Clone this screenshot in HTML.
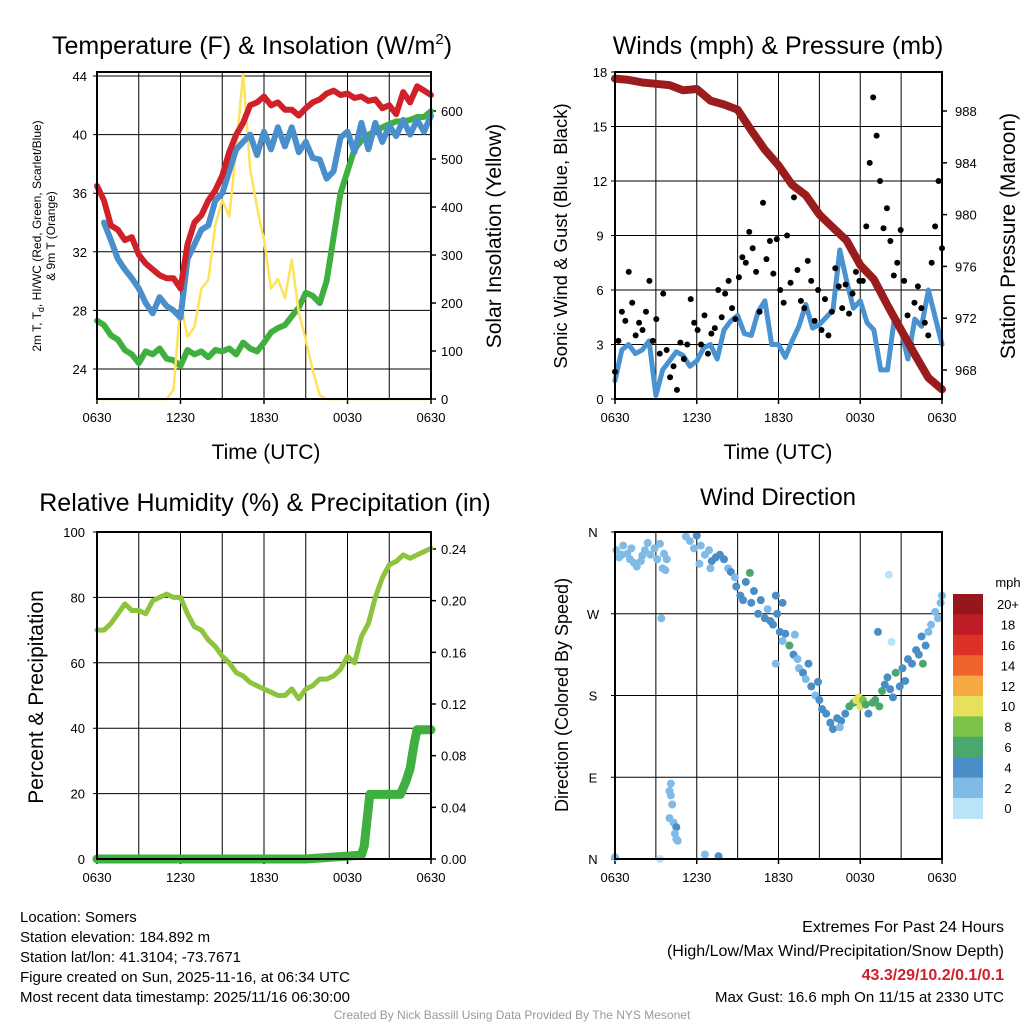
<!DOCTYPE html>
<html><head><meta charset="utf-8"><style>
html,body{margin:0;padding:0;background:#fff;}
svg{display:block;font-family:"Liberation Sans",sans-serif;}
</style></head><body>
<svg id="c" width="1024" height="1024" viewBox="0 0 1024 1024"></svg>
<script>
// ---- data ----
const xTickLabels = ["0630","1230","1830","0030","0630"];
const hours = [0,1,2,3,4,5,6,7,8,9,10,11,12,13,14,15,16,17,18,19,20,21,22,23,24];
const tempRed = [36.5,35.5,33.8,33.5,32.8,33.0,31.8,31.2,30.8,30.4,30.2,30.2,29.5,32.5,34.0,34.5,35.5,36.2,37.2,38.8,40,40.8,42,42.2,42.6,42.0,42.2,41.7,41.7,41.3,41.8,42.2,42.4,42.8,43.0,42.7,42.8,42.5,42.6,42.3,42.4,41.8,42.0,41.4,42.9,42.2,43.3,43.0,42.7];
const tempBlue = [null,34.0,32.8,31.5,30.8,30.2,29.5,28.5,27.8,28.9,28.3,28.0,27.5,31.5,32.5,33.5,33.8,35.5,36.0,37.5,39.0,39.5,40.0,38.6,40.2,39.0,40.5,39.2,40.5,38.8,39.5,38.4,38.3,37.0,37.5,39.8,40.2,38.8,40.8,39.0,40.8,39.5,40.6,39.9,41.0,40.0,41.0,40.2,41.3];
const tempGreen = [27.3,27.0,26.3,26.0,25.3,25.0,24.4,25.2,25.0,25.4,24.7,24.6,24.2,25.3,25.0,25.2,24.8,25.3,25.2,25.4,25.0,25.8,25.4,25.2,25.8,26.5,26.8,27.0,27.6,28.2,29.2,29.0,28.5,30.0,33.0,36.0,37.5,39.0,39.6,40.0,40.2,40.5,40.7,40.9,40.9,41.0,41.2,41.2,41.6];
const insolation = [0,0,0,0,0,0,0,0,0,0,0,19,200,130,150,230,248,362,415,380,519,680,480,400,331,230,250,210,290,180,123,60,8,0,0,0,0,0,0,0,0,0,0,0,0,0,0,0,0];
const tempTicks = [24,28,32,36,40,44];
const insTicks = [0,100,200,300,400,500,600];
const windSpeed = [1.0,2.7,3.0,2.5,2.7,3.2,0.2,1.6,2.1,2.6,2.4,1.8,2.1,2.8,3.0,2.2,3.8,4.3,4.6,3.6,3.5,4.8,5.4,3.0,3.0,2.3,3.2,4.0,5.2,3.9,4.1,4.5,4.9,8.2,6.5,5.0,5.4,4.2,3.8,1.6,1.6,4.4,3.8,2.2,4.4,4.0,6.0,4.5,3.0];
const windGust = [1.5,3.2,4.8,4.3,7.0,5.3,3.5,4.2,3.8,4.8,6.5,3.2,4.4,2.5,5.8,2.7,1.2,1.8,0.5,3.1,2.2,3.0,5.5,4.2,3.8,3.0,4.6,2.5,3.6,3.9,6.0,4.5,5.8,6.5,5.0,4.4,6.7,7.8,7.5,9.2,8.3,7.0,4.8,10.8,7.7,8.7,6.9,8.8,6.0,5.3,9.0,6.4,11.1,7.1,5.4,5.0,7.6,6.5,4.3,6.0,3.8,5.5,3.5,4.8,7.2,6.2,5.0,6.3,4.7,5.8,7.0,6.5,6.5,9.5,13.0,16.6,14.5,12.0,9.4,10.5,8.7,6.8,7.5,9.3,6.5,4.6,3.0,5.3,6.2,5.0,4.2,3.5,7.5,9.5,12.0,8.3];
const pressure = [990.5,990.4,990.2,990.1,990.0,989.6,989.7,988.8,988.5,988.1,986.5,985,983.8,982.3,981.5,980,979,978,976.1,975,973,971.1,969.2,967.4,966.5];
const windTicks = [0,3,6,9,12,15,18];
const presTicks = [968,972,976,980,984,988];
const rh = [70,70,72,75,78,76,76,75,79,80,81,80,80,75,71,70,67,65,62,60,57,56,54,53,52,51,50,50,52,49,52,53,55,55,56,58,62,60,68,72,80,86,90,91,93,92,93,94,95];
const precipTimes = [0,15,19.0,19.2,19.4,19.6,21.8,22.2,22.5,22.8,23.0,24];
const precipVals = [0,0.0,0.003,0.01,0.03,0.05,0.05,0.06,0.07,0.09,0.10,0.10];
const rhTicks = [0,20,40,60,80,100];
const precipTicks = [0,0.04,0.08,0.12,0.16,0.20,0.24];
const dirTimes = [0.1,0.3,0.6,0.9,1.1,1.4,1.6,1.9,2.2,2.4,2.6,2.9,3.1,3.3,3.6,3.5,3.7,3.8,1.2,0.5,2.0,3.4,4.1,4.0,4.1,4.2,4.0,4.3,4.5,4.4,4.5,4.6,0,3.3,6.6,7.6,5.2,5.5,5.8,6.0,6.3,6.6,6.9,7.1,7.4,7.7,8.0,8.3,8.5,8.8,6.2,7.0,8.9,9.2,9.4,9.6,9.9,10.0,10.2,10.5,10.7,11.0,11.2,11.4,11.6,11.9,12.1,12.3,12.5,12.8,12.3,11.8,13.1,13.4,13.5,13.8,14.0,14.2,11.8,13.2,14.4,14.7,14.9,15.0,15.2,15.5,15.8,16.0,16.3,16.6,16.9,17.2,17.5,17.7,17.9,18.0,18.2,18.4,18.6,18.9,19.1,19.4,19.6,19.8,20.0,20.2,20.4,20.6,20.9,21.1,21.3,21.5,21.8,22.1,22.3,22.5,22.8,23.0,23.2,23.5,23.7,23.9,24.0,22.6,16.5,20.1,20.3,19.3];
const dirVals = [340,332,345,336,330,326,322,328,340,348,335,342,330,347,336,320,318,330,342,335,334,265,83,75,70,60,45,40,35,28,22,20,2,0,5,3,355,350,342,356,345,335,340,328,332,335,330,320,316,310,325,320,300,290,285,305,315,282,295,270,285,265,275,262,258,270,250,240,248,235,282,290,225,220,210,205,198,215,215,247,190,180,195,175,165,160,150,143,155,152,160,168,172,175,178,168,175,170,160,172,175,168,185,192,200,187,178,205,190,210,196,220,215,230,225,245,235,250,258,272,265,282,290,215,145,313,239,250];
const dirSpeeds = [2,2,2,2,2,2,2,2,2,2,2,2,2,2,2,1,1,2,2,2,2,1,2,1,1,1,1,2,4,2,2,2,2,0,2,4,2,2,2,4,2,2,2,4,4,4,4,2,4,2,1,2,4,4,4,4,6,4,4,4,4,4,2,4,4,4,4,2,4,6,4,4,4,2,2,4,2,4,2,2,4,2,4,4,4,4,4,4,4,4,4,6,6,10,10,10,8,6,4,6,6,6,6,4,4,4,4,6,4,4,4,4,4,4,4,4,4,2,2,2,2,2,2,6,2,0,0,4];
const dirTickLabels = ["N","E","S","W","N"];
const cbLabels = ["0","2","4","6","8","10","12","14","16","18","20+"];
const cbColors = ["#b8e3f8","#7fbbe6","#4a8ec8","#4aa86e","#7ac24a","#e6e05a","#f6a842","#ef6229","#dd3127","#be1d26","#95171b"];

// ---- helpers ----
const NS="http://www.w3.org/2000/svg";
const svg=document.getElementById('c');
function mk(tag,attrs,parent){const e=document.createElementNS(NS,tag);for(const k in attrs)e.setAttribute(k,attrs[k]);(parent||svg).appendChild(e);return e;}
function txt(s,x,y,size,anchor,extra,parent){const e=mk('text',Object.assign({x:x,y:y,'font-size':size,'text-anchor':anchor||'middle',fill:'#000'},extra||{}),parent);e.textContent=s;return e;}
function lin(v0,v1,p0,p1){return v=>p0+(v-v0)*(p1-p0)/(v1-v0);}

function frame(name,x0,x1,y0,y1){
  const g=mk('g',{});
  
  
  const X=lin(0,24,x0,x1);
  for(let h=3;h<24;h+=3){const l=mk('line',{x1:X(h),x2:X(h),y1:y0,y2:y1,stroke:'#000','stroke-width':1},g);
    }
  for(let i=0;i<xTickLabels.length;i++){const h=i*6;
    mk('line',{x1:X(h),x2:X(h),y1:y1,y2:y1+5,stroke:'#000','stroke-width':1.5},g);
    const t=txt(xTickLabels[i],X(h),y1+23,13,'middle',{},g);
    }
  return {g,X};
}
function border(x0,x1,y0,y1){mk('rect',{x:x0,y:y0,width:x1-x0,height:y1-y0,fill:'none',stroke:'#000','stroke-width':2});}
function path(pts,attrs,name){
  let d='';let pen=false;
  pts.forEach(p=>{if(p==null){pen=false;return;}d+=(pen?'L':'M')+p[0].toFixed(1)+','+p[1].toFixed(1);pen=true;});
  const e=mk('path',Object.assign({d:d,fill:'none','stroke-linejoin':'round','stroke-linecap':'round'},attrs));
  
  
  return e;
}

// ===== Panel 1: Temperature =====
(function(){
  const x0=97,x1=431,y0=72,y1=399;
  const {X}=frame('temperature-plot',x0,x1,y0,y1);
  const Y=lin(24,44,369,76);
  const Yr=lin(0,600,399,111);
  tempTicks.forEach(v=>{mk('line',{x1:x0-4,x2:x1,y1:Y(v),y2:Y(v),stroke:'#000','stroke-width':1});
    const t=txt(String(v),x0-10,Y(v)+5,13,'end');});
  insTicks.forEach(v=>{mk('line',{x1:x1,x2:x1+5,y1:Yr(v),y2:Yr(v),stroke:'#000','stroke-width':1.5});
    const t=txt(String(v),x1+10,Yr(v)+5,13,'start');});
  path(tempGreen.map((v,i)=>[X(i*0.5),Y(v)]),{stroke:'#3fb03f','stroke-width':6},'dewpoint-line');
  path(insolation.map((v,i)=>[X(i*0.5),Yr(v)]),{stroke:'#fde25a','stroke-width':2.5},'insolation-line');
  path(tempBlue.map((v,i)=>v==null?null:[X(i*0.5),Y(v)]),{stroke:'#4a8fcc','stroke-width':6},'heat-index-windchill-line');
  path(tempRed.map((v,i)=>[X(i*0.5),Y(v)]),{stroke:'#d0202a','stroke-width':6},'temperature-line');
  border(x0,x1,y0,y1);
  let t=txt('Temperature (F) & Insolation (W/m',252,54,25,'middle');
  const sup=mk('tspan',{dy:-10,'font-size':15},t);sup.textContent='2';const cl=mk('tspan',{dy:10},t);cl.textContent=')';
  t=txt('Time (UTC)',266,459,21);
  t=txt('2m T, T',0,0,12,'middle',{transform:'translate(41,236) rotate(-90)'});
  const sb=mk('tspan',{dy:3,'font-size':9},t);sb.textContent='d';const r=mk('tspan',{dy:-3},t);r.textContent=', HI/WC (Red, Green, Scarlet/Blue)';
  
  t=txt('& 9m T (Orange)',0,0,12,'middle',{transform:'translate(55,236) rotate(-90)'});
  t=txt('Solar Insolation (Yellow)',0,0,21,'middle',{transform:'translate(501,236) rotate(-90)'});
})();

// ===== Panel 2: Winds =====
(function(){
  const x0=615,x1=942,y0=72,y1=399;
  const {X}=frame('wind-plot',x0,x1,y0,y1);
  const Y=lin(0,18,399,72);
  const Yr=lin(968,988,370,111);
  windTicks.forEach(v=>{mk('line',{x1:x0-4,x2:x1,y1:Y(v),y2:Y(v),stroke:'#000','stroke-width':1});
    const t=txt(String(v),x0-15,Y(v)+5,13,'middle');});
  presTicks.forEach(v=>{mk('line',{x1:x1,x2:x1+5,y1:Yr(v),y2:Yr(v),stroke:'#000','stroke-width':1.5});
    const t=txt(String(v),x1+13,Yr(v)+5,13,'start');});
  path(windSpeed.map((v,i)=>[X(i*0.5),Y(v)]),{stroke:'#4a93d2','stroke-width':5},'sonic-wind-line');
  windGust.forEach((v,i)=>{const c=mk('circle',{cx:X(i*24/(windGust.length-1)),cy:Y(v),r:3,fill:'#000'});
    });
  path(pressure.map((v,i)=>[X(hours[i]),Yr(v)]),{stroke:'#9b1c1c','stroke-width':8},'pressure-line');
  border(x0,x1,y0,y1);
  let t=txt('Winds (mph) & Pressure (mb)',778,54,25);
  t=txt('Time (UTC)',778,459,21);
  t=txt('Sonic Wind & Gust (Blue, Black)',0,0,18.5,'middle',{transform:'translate(567,236) rotate(-90)'});
  t=txt('Station Pressure (Maroon)',0,0,21,'middle',{transform:'translate(1015,236) rotate(-90)'});
})();

// ===== Panel 3: RH & precip =====
(function(){
  const x0=97,x1=431,y0=532,y1=859;
  const {X}=frame('humidity-plot',x0,x1,y0,y1);
  const Y=lin(0,100,859,532);
  const Yr=lin(0,0.24,859,549);
  rhTicks.forEach(v=>{mk('line',{x1:x0-4,x2:x1,y1:Y(v),y2:Y(v),stroke:'#000','stroke-width':1});
    const t=txt(String(v),x0-12,Y(v)+5,13,'end');});
  precipTicks.forEach(v=>{mk('line',{x1:x1,x2:x1+5,y1:Yr(v),y2:Yr(v),stroke:'#000','stroke-width':1.5});
    const t=txt(v.toFixed(2),x1+10,Yr(v)+5,13,'start');});
  path(rh.map((v,i)=>[X(i*0.5),Y(v)]),{stroke:'#8cc43e','stroke-width':5},'humidity-line');
  path(precipTimes.map((h,i)=>[X(h),Yr(precipVals[i])]),{stroke:'#3fb03f','stroke-width':9},'precipitation-line');
  border(x0,x1,y0,y1);
  let t=txt('Relative Humidity (%) & Precipitation (in)',265,511,25);
  t=txt('Percent & Precipitation',0,0,21,'middle',{transform:'translate(43,697) rotate(-90)'});
})();

// ===== Panel 4: Wind direction =====
(function(){
  const x0=615,x1=942,y0=532,y1=859;
  const {X}=frame('wind-direction-plot',x0,x1,y0,y1);
  const Y=lin(0,360,859,532);
  dirTickLabels.forEach((s,i)=>{const v=i*90;mk('line',{x1:x0-4,x2:x1,y1:Y(v),y2:Y(v),stroke:'#000','stroke-width':1});
    const t=txt(s,x0-22,Y(v)+5,13,'middle');});
  function col(s){let i=Math.round(s/2);if(i>10)i=10;return cbColors[i];}
  dirTimes.forEach((h,i)=>{const c=mk('circle',{cx:X(h),cy:Y(dirVals[i]),r:4,fill:col(dirSpeeds[i])});
    });
  border(x0,x1,y0,y1);
  let t=txt('Wind Direction',778,505,24);
  t=txt('Direction (Colored By Speed)',0,0,18,'middle',{transform:'translate(568,695) rotate(-90)'});
  const cb=mk('g',{});
  const top=594,bh=20.4;
  for(let i=0;i<cbLabels.length;i++){const j=cbLabels.length-1-i;
    mk('rect',{x:953,y:top+i*bh,width:30,height:bh+0.5,fill:cbColors[j]},cb);
    const l=txt(cbLabels[j],1008,top+i*bh+bh/2+5,13,'middle',{},cb);}
  t=txt('mph',1008,587,13,'middle');
})();

// ===== Footer text =====
const info=["Location: Somers","Station elevation: 184.892 m","Station lat/lon: 41.3104; -73.7671","Figure created on Sun, 2025-11-16, at 06:34 UTC","Most recent data timestamp: 2025/11/16 06:30:00"];
info.forEach((s,i)=>{const t=txt(s,20,922+i*20,15,'start');});
let ft=txt('Extremes For Past 24 Hours',1004,932,16,'end');
ft=txt('(High/Low/Max Wind/Precipitation/Snow Depth)',1004,956,16,'end');
ft=txt('43.3/29/10.2/0.1/0.1',1004,980,16,'end',{fill:'#d0202a','font-weight':'bold'});
ft=txt('Max Gust: 16.6 mph On 11/15 at 2330 UTC',1004,1002,15,'end');
ft=txt('Created By Nick Bassill Using Data Provided By The NYS Mesonet',512,1019,12,'middle',{fill:'#999'});
</script>
</body></html>
